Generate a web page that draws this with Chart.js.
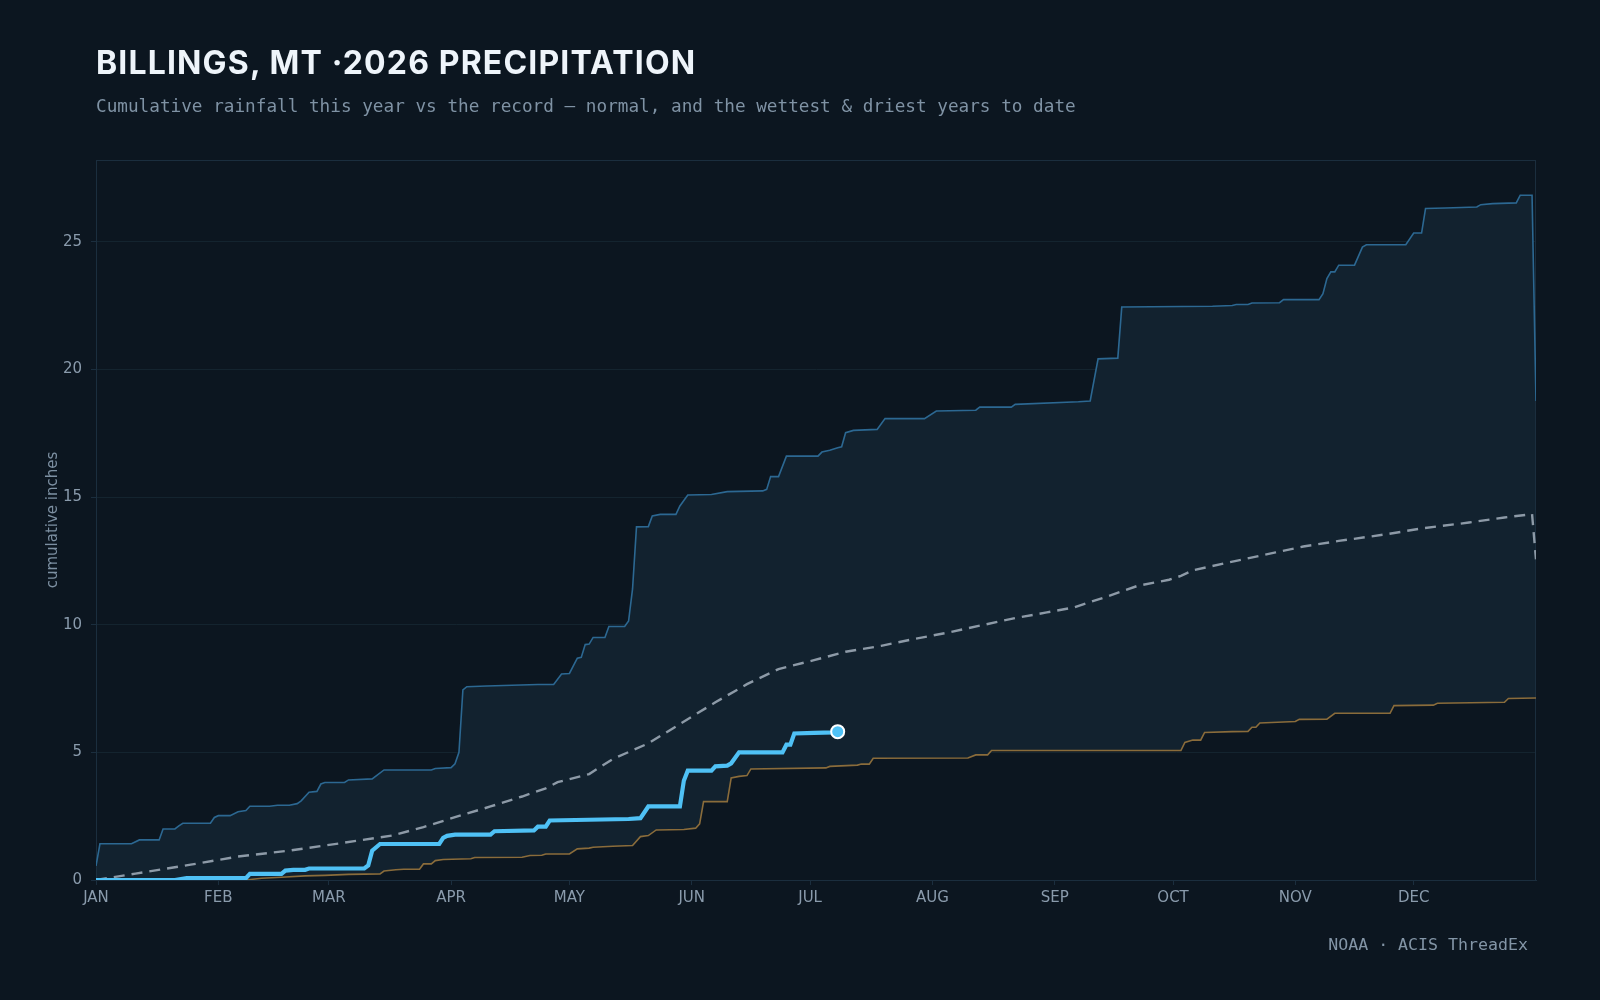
<!DOCTYPE html>
<html>
<head>
<meta charset="utf-8">
<title>Billings, MT 2026 precipitation</title>
<script src="https://cdn.jsdelivr.net/npm/chart.js@4.4.1/dist/chart.umd.min.js"></script>
<style>
  html, body { margin: 0; padding: 0; background: #0c1620; }
  #wrap { position: relative; width: 1600px; height: 1000px; overflow: hidden; background: #0c1620; }
  #chart { position: absolute; left: 0; top: 0; }
  .title {
    position: absolute; left: 96px; top: 47px; margin: 0;
    font: 700 32px/1 Inter, "Open Sans", sans-serif; color: #eef4fa; letter-spacing: 1.15px;
  }
  .subtitle {
    position: absolute; left: 96px; top: 96px; margin: 0;
    font: 17.7px/1.2 "DejaVu Sans Mono", monospace; color: #7f92a4;
  }
  .source {
    position: absolute; right: 72px; top: 935px; margin: 0;
    font: 16.6px/1.2 "DejaVu Sans Mono", monospace; color: #8395a6;
  }
</style>
</head>
<body>
<div id="wrap">
  <canvas id="chart" width="1600" height="1000"></canvas>
  <h1 class="title">BILLINGS, MT ·2026 PRECIPITATION</h1>
  <p class="subtitle">Cumulative rainfall this year vs the record — normal, and the wettest &amp; driest years to date</p>
  <p class="source">NOAA · ACIS ThreadEx</p>
</div>
<script>
// axis labels
const monthLabels = ['JAN', 'FEB', 'MAR', 'APR', 'MAY', 'JUN', 'JUL', 'AUG', 'SEP', 'OCT', 'NOV', 'DEC'];
const monthStarts = [0, 31, 59, 90, 120, 151, 181, 212, 243, 273, 304, 334];
const yTicks = [0, 5, 10, 15, 20, 25];

// wettest year on record, cumulative inches (day of year, value)
const wettestDays = [0, 1, 9, 11, 16, 17, 20, 21, 22, 29, 30, 31, 34, 36, 38, 39, 44, 46, 49, 51, 52, 54, 56, 57, 58, 63, 64, 70, 73, 85, 86, 90, 91, 92, 93, 94, 99, 112, 116, 118, 120, 122, 123, 124, 125, 126, 129, 130, 134, 135, 136, 137, 140, 141, 143, 147, 148, 150, 156, 160, 169, 170, 171, 173, 175, 183, 184, 186, 188, 189, 190, 192, 198, 200, 210, 213, 223, 224, 232, 233, 249, 252, 254, 259, 260, 283, 288, 289, 292, 293, 300, 301, 310, 311, 312, 313, 314, 315, 319, 321, 322, 332, 334, 336, 337, 342, 350, 351, 354, 360, 361, 364, 365];
const wettestInches = [0.55, 1.42, 1.42, 1.57, 1.57, 2.0, 2.0, 2.12, 2.22, 2.22, 2.45, 2.52, 2.52, 2.67, 2.72, 2.89, 2.89, 2.93, 2.93, 2.99, 3.1, 3.44, 3.47, 3.76, 3.82, 3.82, 3.92, 3.96, 4.31, 4.31, 4.37, 4.4, 4.55, 5.0, 7.45, 7.57, 7.6, 7.66, 7.66, 8.07, 8.09, 8.69, 8.72, 9.22, 9.24, 9.5, 9.5, 9.93, 9.93, 10.15, 11.4, 13.83, 13.84, 14.26, 14.32, 14.32, 14.65, 15.08, 15.1, 15.21, 15.24, 15.3, 15.8, 15.8, 16.6, 16.6, 16.76, 16.83, 16.93, 16.97, 17.52, 17.61, 17.65, 18.07, 18.07, 18.37, 18.4, 18.52, 18.52, 18.63, 18.73, 18.76, 20.41, 20.44, 22.44, 22.47, 22.5, 22.54, 22.54, 22.6, 22.61, 22.73, 22.73, 22.96, 23.56, 23.82, 23.82, 24.08, 24.08, 24.79, 24.88, 24.88, 25.34, 25.34, 26.3, 26.32, 26.36, 26.45, 26.49, 26.52, 26.82, 26.82, 18.76];

// driest year on record
const driestDays = [0, 38, 42, 47, 53, 58, 64, 72, 73, 76, 78, 82, 83, 85, 86, 88, 95, 96, 108, 110, 113, 114, 120, 122, 125, 126, 131, 136, 138, 140, 142, 149, 152, 153, 154, 160, 161, 163, 165, 166, 185, 186, 193, 194, 196, 197, 221, 223, 226, 227, 275, 276, 278, 280, 281, 288, 292, 293, 294, 295, 298, 304, 305, 312, 314, 328, 329, 339, 340, 357, 358, 365];
const driestInches = [0, 0, 0.07, 0.11, 0.16, 0.18, 0.22, 0.24, 0.35, 0.4, 0.42, 0.42, 0.63, 0.63, 0.76, 0.8, 0.83, 0.88, 0.89, 0.96, 0.97, 1.02, 1.02, 1.22, 1.25, 1.28, 1.32, 1.35, 1.7, 1.74, 1.96, 1.98, 2.03, 2.2, 3.07, 3.07, 4.0, 4.06, 4.09, 4.35, 4.39, 4.45, 4.5, 4.54, 4.54, 4.77, 4.78, 4.9, 4.9, 5.07, 5.07, 5.39, 5.48, 5.48, 5.78, 5.81, 5.82, 5.98, 5.98, 6.15, 6.17, 6.21, 6.29, 6.3, 6.53, 6.53, 6.83, 6.85, 6.92, 6.96, 7.11, 7.13];

// normal (average) cumulative precipitation
const normalDays = [0, 10, 24, 36, 49, 62, 75, 83, 91, 100, 108, 114, 117, 125, 131, 140, 148, 157, 165, 173, 182, 190, 199, 207, 216, 224, 233, 241, 248, 256, 264, 272, 275, 278, 289, 299, 306, 315, 327, 336, 348, 357, 364, 365];
const normalInches = [0, 0.25, 0.6, 0.92, 1.15, 1.44, 1.74, 2.07, 2.46, 2.88, 3.27, 3.59, 3.83, 4.15, 4.74, 5.35, 6.11, 6.96, 7.67, 8.26, 8.61, 8.94, 9.17, 9.43, 9.69, 9.96, 10.26, 10.48, 10.68, 11.09, 11.52, 11.76, 11.91, 12.13, 12.5, 12.83, 13.06, 13.28, 13.54, 13.77, 14.0, 14.2, 14.33, 12.56];

// 2026 so far
const thisYearDays = [0, 20, 23, 38, 39, 47, 48, 50, 53, 54, 68, 69, 70, 72, 87, 88, 89, 91, 100, 101, 111, 112, 114, 115, 135, 138, 140, 148, 149, 150, 156, 157, 160, 161, 163, 174, 175, 176, 177, 182, 187, 188];
const thisYearInches = [0, 0, 0.07, 0.07, 0.24, 0.24, 0.37, 0.4, 0.4, 0.45, 0.45, 0.57, 1.15, 1.41, 1.41, 1.65, 1.73, 1.78, 1.78, 1.91, 1.94, 2.09, 2.09, 2.33, 2.39, 2.42, 2.88, 2.88, 3.89, 4.28, 4.28, 4.45, 4.48, 4.57, 5.0, 5.0, 5.3, 5.3, 5.74, 5.76, 5.78, 5.81];

const colors = {
  grid: '#14242f',
  frame: '#1b2e3e',
  tick: '#8a9bac',
  band: '#12222f',
  wettest: '#2c6892',
  driest: '#8a6c3b',
  normal: '#8d9aa7',
  thisYear: '#4fc1f5'
};

function toPoints(days, values) {
  return days.map((day, i) => ({ x: day, y: values[i] }));
}

const framePlugin = {
  id: 'frame',
  beforeDatasetsDraw(chart) {
    const { ctx, chartArea } = chart;
    ctx.save();
    ctx.strokeStyle = colors.frame;
    ctx.lineWidth = 1;
    ctx.strokeRect(chartArea.left + 0.5, chartArea.top + 0.5, chartArea.width - 1, chartArea.height);
    ctx.restore();
  }
};

const lastIndex = thisYearDays.length - 1;

new Chart(document.getElementById('chart'), {
  type: 'line',
  data: {
    datasets: [
      {
        label: '2026',
        data: toPoints(thisYearDays, thisYearInches),
        borderColor: colors.thisYear,
        borderWidth: 4.2,
        fill: false,
        pointRadius: ctx => (ctx.dataIndex === lastIndex ? 6.5 : 0),
        pointBackgroundColor: colors.thisYear,
        pointBorderColor: '#ffffff',
        pointBorderWidth: 2
      },
      {
        label: 'Normal',
        data: toPoints(normalDays, normalInches),
        borderColor: colors.normal,
        borderWidth: 2.4,
        borderDash: [11, 7],
        fill: false,
        pointRadius: 0
      },
      {
        label: 'Wettest',
        data: toPoints(wettestDays, wettestInches),
        borderColor: colors.wettest,
        borderWidth: 1.6,
        backgroundColor: colors.band,
        fill: 3,
        pointRadius: 0
      },
      {
        label: 'Driest',
        data: toPoints(driestDays, driestInches),
        borderColor: colors.driest,
        borderWidth: 1.6,
        fill: false,
        pointRadius: 0
      }
    ]
  },
  options: {
    responsive: false,
    animation: false,
    devicePixelRatio: 1,
    layout: { padding: { left: 40, top: 160, right: 64, bottom: 80 } },
    elements: { line: { tension: 0 } },
    plugins: {
      legend: { display: false },
      tooltip: { enabled: false },
      filler: { drawTime: 'beforeDatasetsDraw' }
    },
    scales: {
      x: {
        type: 'linear',
        min: 0,
        max: 365,
        afterBuildTicks: scale => { scale.ticks = monthStarts.map(v => ({ value: v })); },
        afterFit: scale => { scale.height = 40; },
        ticks: {
          color: colors.tick,
          font: { family: 'DejaVu Sans', size: 15 },
          padding: 4,
          maxRotation: 0,
          autoSkip: false,
          callback: value => monthLabels[monthStarts.indexOf(value)]
        },
        grid: { drawOnChartArea: false, drawTicks: true, tickLength: 5, color: colors.frame },
        border: { color: colors.frame }
      },
      y: {
        min: 0,
        max: 28.2,
        afterBuildTicks: scale => { scale.ticks = yTicks.map(v => ({ value: v })); },
        afterFit: scale => { scale.width = 56; },
        ticks: {
          color: colors.tick,
          font: { family: 'DejaVu Sans', size: 15 },
          padding: 9
        },
        grid: { color: colors.grid, tickColor: colors.frame, tickLength: 5 },
        border: { color: colors.frame },
        title: {
          display: true,
          text: 'cumulative inches',
          color: '#7d90a2',
          font: { family: 'DejaVu Sans', size: 15 },
          padding: { top: 4, bottom: 0 }
        }
      }
    }
  },
  plugins: [framePlugin]
});
</script>
</body>
</html>
